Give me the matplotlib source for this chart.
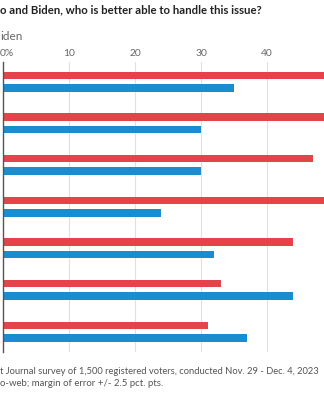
import matplotlib
matplotlib.use("Agg")
import matplotlib.pyplot as plt
import numpy as np

# Data (Trump in red, Biden in blue); bars that run off the right edge are estimated
groups = ["Issue 1", "Issue 2", "Issue 3", "Issue 4", "Issue 5", "Issue 6", "Issue 7"]
trump = [52, 52, 47, 51, 44, 33, 31]
biden = [35, 30, 30, 24, 32, 44, 37]
ticks = [0, 10, 20, 30, 40]
tick_labels = ["0%", "10", "20", "30", "40"]

RED = "#E4434A"
BLUE = "#1A8DD0"

W, H = 324, 400
fig = plt.figure(figsize=(W / 100, H / 100), dpi=100)
fig.patch.set_facecolor("white")

ax_left, ax_right = 3 / W, 1.0
ax_top, ax_bot = 1 - 62 / H, 1 - 352 / H
ax = fig.add_axes([ax_left, ax_bot, ax_right - ax_left, ax_top - ax_bot])

y = np.arange(len(groups))
bh = 0.18
off = 0.15
ax.barh(y - off, trump, height=bh, color=RED, zorder=3)
ax.barh(y + off, biden, height=bh, color=BLUE, zorder=3)

ax.set_xlim(0, (W - 3) / 6.6)
ax.set_ylim(len(groups) - 1 + 0.49, -0.47)

for t in ticks[1:]:
    ax.axvline(t, color="#e0e0e0", lw=0.8, zorder=1)

ax.set_xticks(ticks)
ax.set_xticklabels(tick_labels, family="Lato", fontsize=7.4, color="#666666")
ax.xaxis.tick_top()
ax.tick_params(axis="x", length=0, pad=3)
first = ax.get_xticklabels()[0]
first.set_horizontalalignment("left")
first.set_x(0)
from matplotlib.transforms import offset_copy
for lab in ax.get_xticklabels()[:1]:
    lab.set_transform(offset_copy(lab.get_transform(), fig=fig, x=-3, units="dots"))
ax.set_yticks([])
for s in ["top", "right", "bottom"]:
    ax.spines[s].set_visible(False)
ax.spines["left"].set_color("#555555")
ax.spines["left"].set_linewidth(1.0)
ax.spines["left"].set_zorder(4)

fig.text(0, 1 - 10 / H, "o and Biden, who is better able to handle this issue?",
         family="Lato", fontweight="bold", fontsize=8.2, color="#222222",
         ha="left", va="center")
fig.text(0, 1 - 36 / H, "iden", family="Lato", fontsize=8.5, color="#666666",
         ha="left", va="center")
fig.text(0, 1 - 371 / H,
         "t Journal survey of 1,500 registered voters, conducted Nov. 29 - Dec. 4, 2023",
         family="Lato", fontsize=6.75, color="#555555", ha="left", va="center")
fig.text(0, 1 - 384 / H, "o-web; margin of error +/- 2.5 pct. pts.",
         family="Lato", fontsize=6.9, color="#555555", ha="left", va="center")

fig.savefig("out.png", dpi=100, facecolor="white")
